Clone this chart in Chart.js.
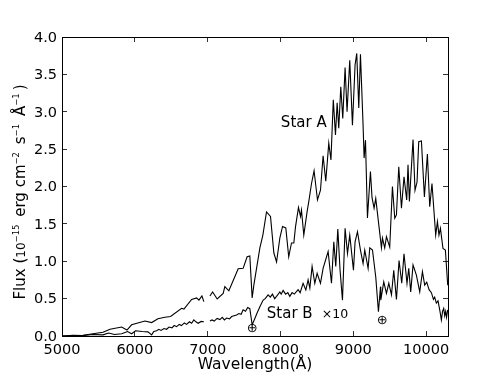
<!DOCTYPE html>
<html lang="en">
  <head>
    <meta charset="UTF-8" />
    <title>Star spectra</title>
    <script src="https://cdn.jsdelivr.net/npm/chart.js"></script>
    <style>
      body { margin: 0; background: #fff; }
      canvas { display: block; }
    </style>
  </head>
  <body>
    <canvas id="spectrum" width="498" height="374"></canvas>
    <script>
      // Wavelength in angstrom, flux in 1e-15 units. null = gap in the data
      const starAWave = [5000, 5288, 5563, 5659, 5819, 5892, 5956, 6139, 6231, 6317, 6413, 6491, 6642, 6674, 6780, 6848, 6880, 6921, 6948, 6990, 7031, 7068, 7131, 7213, 7236, 7291, 7419, 7487, 7542, 7579, 7611, 7634, 7717, 7758, 7808, 7863, 7909, 7946, 7991, 8028, 8073, 8113, 8151, 8183, 8206, 8247, 8275, 8288, 8320, 8365, 8389, 8426, 8461, 8508, 8549, 8585, 8622, 8663, 8693, 8725, 8755, 8778, 8800, 8828, 8855, 8887, 8914, 8951, 8988, 9024, 9047, 9075, 9098, 9134, 9148, 9167, 9194, 9235, 9257, 9285, 9308, 9353, 9386, 9400, 9431, 9455, 9500, 9537, 9569, 9592, 9624, 9661, 9696, 9733, 9751, 9770, 9820, 9847, 9875, 9898, 9935, 9976, 10017, 10049, 10080, 10131, 10155, 10176, 10196, 10231, 10264, 10296]
      const starAFlux = [0, 0.01, 0.05, 0.09, 0.12, 0.08, 0.15, 0.2, 0.18, 0.23, 0.25, 0.26, 0.37, 0.36, 0.49, 0.51, 0.48, 0.535, 0.46, null, 0.535, 0.59, 0.495, 0.57, 0.66, 0.605, 0.9, 0.905, 1.06, 1.07, 0.51, 0.68, 1.18, 1.35, 1.66, 1.6, 1.11, 0.99, 1.31, 1.465, 1.445, 1.06, 1.245, 1.245, 1.46, 1.72, 1.6, 1.685, 1.35, 1.66, 1.8, 2.04, 2.21, 1.82, 1.95, 2.41, 2.07, 2.58, 2.355, 3.16, 2.69, 3.12, 2.78, 3.335, 2.91, 3.59, 3.0, 3.69, 2.82, 3.625, 3.78, 3.05, 3.77, 2.82, 2.38, 2.62, 1.58, 2.2, 1.85, 1.71, 1.84, 1.46, 1.18, 1.31, 1.18, 1.33, 1.19, 2.0, 1.575, 1.62, 2.265, 1.71, 2.13, 1.82, 2.29, 1.8, 2.63, 1.95, 2.06, 2.6, 2.61, 1.86, 2.435, 1.73, 2.04, 1.35, 1.53, 1.35, 1.44, 1.17, 1.15, 0.68]
      const starBWave = [5000, 5150, 5288, 5420, 5563, 5640, 5720, 5819, 5900, 5956, 6010, 6100, 6180, 6231, 6260, 6299, 6330, 6360, 6400, 6436, 6470, 6510, 6540, 6574, 6610, 6640, 6680, 6711, 6750, 6780, 6810, 6838, 6870, 6910, 6948, 6990, 7031, 7060, 7090, 7130, 7168, 7200, 7230, 7260, 7300, 7330, 7397, 7430, 7460, 7487, 7520, 7550, 7579, 7611, 7648, 7680, 7717, 7762, 7790, 7830, 7860, 7890, 7920, 7946, 7991, 8010, 8036, 8070, 8100, 8128, 8160, 8190, 8242, 8270, 8310, 8348, 8379, 8403, 8434, 8471, 8503, 8549, 8585, 8654, 8700, 8732, 8759, 8787, 8818, 8851, 8887, 8920, 8951, 9002, 9024, 9057, 9098, 9134, 9157, 9203, 9226, 9263, 9308, 9345, 9373, 9377, 9418, 9455, 9487, 9524, 9555, 9592, 9628, 9665, 9696, 9737, 9761, 9788, 9820, 9866, 9912, 9949, 9980, 10008, 10040, 10072, 10100, 10117, 10140, 10163, 10190, 10209, 10225, 10241, 10255, 10268, 10280, 10296]
      const starBFlux = [0, 0.01, 0.005, 0.02, 0.015, 0.04, 0.02, 0.03, 0.06, 0.03, 0.07, 0.06, 0.055, 0.015, 0.06, 0.07, 0.09, 0.075, 0.1, 0.09, 0.12, 0.11, 0.14, 0.125, 0.155, 0.14, 0.175, 0.155, 0.19, 0.17, 0.215, 0.19, 0.17, 0.195, 0.19, null, 0.2, 0.215, 0.2, 0.235, 0.22, 0.25, 0.215, 0.24, 0.23, 0.26, 0.28, 0.3, 0.29, 0.35, 0.33, 0.38, 0.365, 0.15, 0.235, 0.31, 0.39, 0.48, 0.5, 0.55, 0.52, 0.56, 0.5, 0.53, 0.59, 0.56, 0.61, 0.56, 0.58, 0.53, 0.58, 0.56, 0.62, 0.58, 0.705, 0.615, 0.75, 0.64, 0.93, 0.705, 0.84, 0.705, 0.905, 1.13, 0.705, 1.26, 0.93, 1.43, 0.88, 0.48, 1.44, 1.105, 1.35, 0.88, 1.26, 1.395, 1.15, 0.97, 1.15, 0.905, 1.18, 1.15, 0.79, 0.325, 0.66, 0.48, 0.725, 0.57, 0.705, 0.55, 0.88, 0.49, 1.01, 0.705, 1.1, 0.705, 0.905, 0.59, 0.95, 0.815, 0.59, 0.86, 0.68, 0.72, 0.62, 0.58, 0.49, 0.52, 0.44, 0.47, 0.33, 0.215, 0.33, 0.37, 0.27, 0.33, 0.25, 0.35]

      const xTickValues = [5000, 6000, 7000, 8000, 9000, 10000]
      const yTickValues = [0, 0.5, 1, 1.5, 2, 2.5, 3, 3.5, 4]

      // Text notes placed on the plot, in data units
      const noteText = ["Star A", "Star B", "×10", "⊕", "⊕"]
      const noteWave = [8005, 7812, 8567, 7610, 9397]
      const noteFlux = [2.8, 0.24, 0.24, 0.055, 0.155]
      const noteSize = [15, 15, 12.5, 13, 13]

      const toPoints = (xs, ys) => xs.map((x, i) => ({ x, y: ys[i] }))

      const fixedSize = (prop, size) => (scale) => { scale[prop] = size }
      const fixedTicks = (values) => (scale) => { scale.ticks = values.map((value) => ({ value })) }

      const notesPlugin = {
        id: "notes",
        afterDraw(chart) {
          const { ctx, scales } = chart
          ctx.save()
          ctx.fillStyle = "#000"
          ctx.textBaseline = "alphabetic"
          noteText.forEach((t, i) => {
            ctx.font = noteSize[i] + "px 'DejaVu Sans'"
            ctx.textAlign = t === "⊕" ? "center" : "left"
            ctx.fillText(t, scales.x.getPixelForValue(noteWave[i]), scales.y.getPixelForValue(noteFlux[i]))
          })

          // y axis title with superscripts
          const parts = [
            ["Flux (", 15, 0],
            ["10", 12, 0],
            ["−15", 8.5, 6],
            [" erg cm", 15, 0],
            ["−2", 8.5, 6],
            [" s", 15, 0],
            ["−1", 8.5, 6],
            [" Å", 15, 0],
            ["−1", 8.5, 6],
            [")", 15, 0],
          ]
          let total = 0
          parts.forEach((p) => {
            ctx.font = p[1] + "px 'DejaVu Sans'"
            total += ctx.measureText(p[0]).width + (p[2] ? 3 : 0)
          })
          ctx.translate(25, 192)
          ctx.rotate(-Math.PI / 2)
          let x = -total / 2
          ctx.textAlign = "left"
          parts.forEach((p) => {
            ctx.font = p[1] + "px 'DejaVu Sans'"
            ctx.fillText(p[0], x, -p[2])
            x += ctx.measureText(p[0]).width + (p[2] ? 3 : 0)
          })
          ctx.restore()
        },
      }

      const axisGrid = { drawOnChartArea: false, tickLength: -5, tickColor: "#333", tickWidth: 1 }
      const axisBorder = { color: "#000", width: 1 }
      const tickFont = { family: "'DejaVu Sans'", size: 14.5 }
      const titleFont = { family: "'DejaVu Sans'", size: 15.5 }
      const xRange = { type: "linear", min: 5000, max: 10300, afterBuildTicks: fixedTicks(xTickValues) }
      const yRange = { type: "linear", min: 0, max: 4, afterBuildTicks: fixedTicks(yTickValues) }

      new Chart(document.getElementById("spectrum"), {
        type: "line",
        data: {
          datasets: [
            { label: "Star A", data: toPoints(starAWave, starAFlux) },
            { label: "Star B", data: toPoints(starBWave, starBFlux) },
          ],
        },
        plugins: [notesPlugin],
        options: {
          responsive: false,
          animation: false,
          parsing: false,
          spanGaps: false,
          elements: {
            line: { borderColor: "#000", borderWidth: 1.1, tension: 0 },
            point: { radius: 0 },
          },
          plugins: { legend: { display: false }, tooltip: { enabled: false } },
          scales: {
            x: {
              ...xRange,
              position: "bottom",
              afterFit: fixedSize("height", 38),
              grid: axisGrid,
              border: axisBorder,
              ticks: { color: "#000", font: tickFont, padding: 11, maxRotation: 0, autoSkip: false, callback: (v) => String(v) },
              title: { display: true, text: "Wavelength(Å)", color: "#000", font: titleFont, padding: 0 },
            },
            x2: {
              ...xRange,
              position: "top",
              afterFit: fixedSize("height", 37),
              grid: axisGrid,
              border: axisBorder,
              ticks: { display: false },
            },
            y: {
              ...yRange,
              position: "left",
              afterFit: fixedSize("width", 62),
              grid: axisGrid,
              border: axisBorder,
              ticks: { color: "#000", font: tickFont, padding: 10, labelOffset: 1, autoSkip: false, callback: (v) => v.toFixed(1) },
            },
            y2: {
              ...yRange,
              position: "right",
              afterFit: fixedSize("width", 50),
              grid: axisGrid,
              border: axisBorder,
              ticks: { display: false },
            },
          },
        },
      })
    </script>
  </body>
</html>
